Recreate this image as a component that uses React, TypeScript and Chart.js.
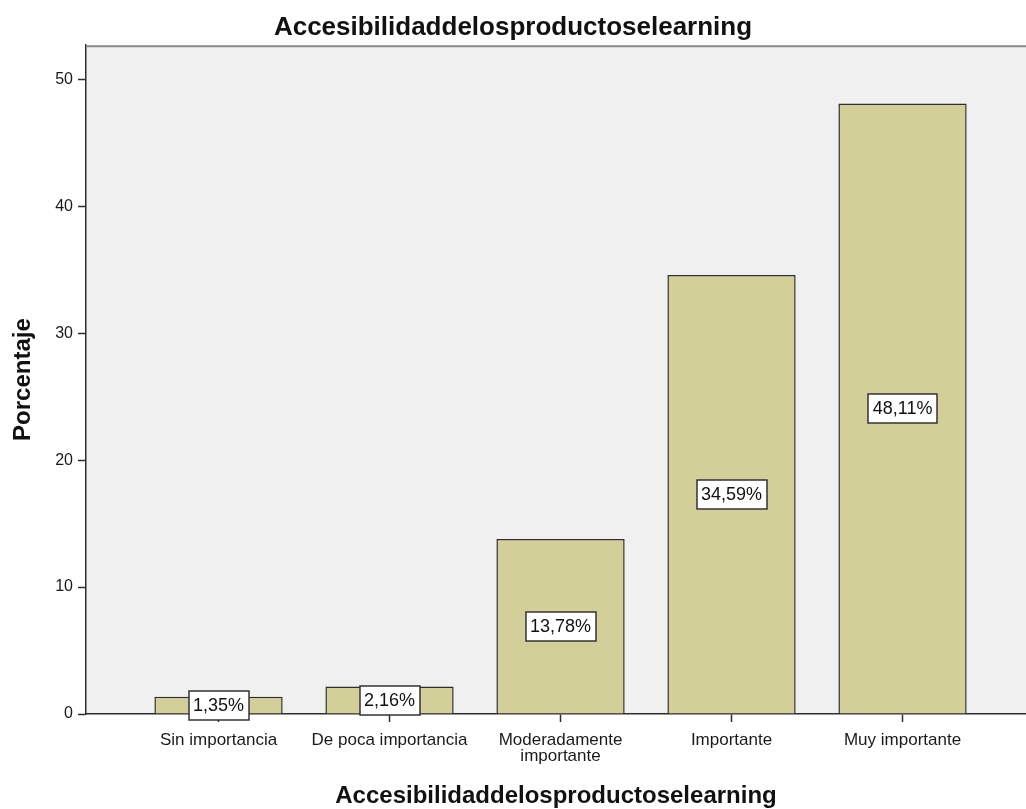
import React, { useEffect, useRef } from "react";
import { Chart, registerables } from "chart.js";

Chart.register(...registerables);

const chartTitle = "Accesibilidaddelosproductoselearning";
const xAxisTitle = "Accesibilidaddelosproductoselearning";
const yAxisTitle = "Porcentaje";
const categories: (string | string[])[] = [
  "Sin importancia",
  "De poca importancia",
  ["Moderadamente", "importante"],
  "Importante",
  "Muy importante",
];
const percentages = [1.35, 2.16, 13.78, 34.59, 48.11];
const yTicks = [0, 10, 20, 30, 40, 50];

const FONT = "'Liberation Sans', Arial, Helvetica, sans-serif";

const plotPlugin = {
  id: "plotDecor",
  beforeDraw(chart: any) {
    const { ctx, chartArea } = chart;
    ctx.save();
    ctx.fillStyle = "#f0f0f0";
    ctx.fillRect(chartArea.left, chartArea.top, chartArea.right - chartArea.left, chartArea.bottom - chartArea.top);
    ctx.restore();
  },
  afterDatasetsDraw(chart: any) {
    const { ctx, chartArea } = chart;
    ctx.save();
    // top frame line
    ctx.strokeStyle = "#8c8c8c";
    ctx.lineWidth = 2;
    ctx.beginPath();
    ctx.moveTo(chartArea.left, chartArea.top + 1);
    ctx.lineTo(chartArea.right, chartArea.top + 1);
    ctx.stroke();
    // value labels
    const meta = chart.getDatasetMeta(0);
    ctx.font = `18px ${FONT}`;
    ctx.textAlign = "center";
    ctx.textBaseline = "middle";
    meta.data.forEach((bar: any, i: number) => {
      const v = percentages[i];
      const text = v.toFixed(2).replace(".", ",") + "%";
      const cx = bar.x;
      const cy = (bar.y + bar.base) / 2;
      const w = ctx.measureText(text).width + 9;
      const h = 29;
      ctx.fillStyle = "#ffffff";
      ctx.fillRect(Math.round(cx - w / 2), Math.round(cy - h / 2), Math.round(w), h);
      ctx.strokeStyle = "#333333";
      ctx.lineWidth = 1.5;
      ctx.strokeRect(Math.round(cx - w / 2), Math.round(cy - h / 2), Math.round(w), h);
      ctx.fillStyle = "#111111";
      ctx.fillText(text, cx, cy + 1);
    });
    ctx.restore();
  },
};

export default function App() {
  const canvasRef = useRef<HTMLCanvasElement | null>(null);

  useEffect(() => {
    if (!canvasRef.current) return;
    const chart = new Chart(canvasRef.current, {
      type: "bar",
      data: {
        datasets: [
          {
            data: percentages.map((v, i) => ({ x: i, y: v })),
            backgroundColor: "#d3cf98",
            borderColor: "#2e2e2e",
            borderWidth: 1.5,
            categoryPercentage: 1,
            barPercentage: 0.75,
          },
        ],
      },
      options: {
        animation: false,
        responsive: false,
        devicePixelRatio: 1,
        layout: { padding: 0 },
        plugins: {
          legend: { display: false },
          tooltip: { enabled: false },
          title: {
            display: true,
            text: chartTitle,
            color: "#111111",
            font: { family: FONT, size: 26, weight: "bold" },
            padding: { top: 12, bottom: 2 },
          },
        },
        scales: {
          x: {
            type: "linear",
            offset: false,
            min: -0.775,
            max: 4.722,
            afterBuildTicks: (scale: any) => {
              scale.ticks = categories.map((_, i) => ({ value: i }));
            },
            afterFit: (scale: any) => {
              scale.height = 95;
            },
            ticks: {
              autoSkip: false,
              maxRotation: 0,
              minRotation: 0,
              color: "#1a1a1a",
              padding: 10,
              font: { family: FONT, size: 17, lineHeight: 0.95 },
              callback: (value: any) => categories[value as number] as any,
            },
            grid: {
              display: true,
              offset: false,
              drawOnChartArea: false,
              drawTicks: true,
              tickLength: 8,
              tickWidth: 1.5,
              tickColor: "#2e2e2e",
            },
            border: { display: true, color: "#2e2e2e", width: 1.5 },
            title: {
              display: true,
              text: xAxisTitle,
              color: "#111111",
              font: { family: FONT, size: 24, weight: "bold", lineHeight: 1.0 },
              padding: { top: 0, bottom: 1 },
            },
          },
          y: {
            type: "linear",
            min: 0,
            max: 52.7,
            afterBuildTicks: (scale: any) => {
              scale.ticks = yTicks.map((v) => ({ value: v }));
            },
            afterFit: (scale: any) => {
              scale.width = 86;
            },
            ticks: {
              color: "#1a1a1a",
              padding: 5,
              font: { family: FONT, size: 16 },
            },
            grid: {
              display: true,
              drawOnChartArea: false,
              drawTicks: true,
              tickLength: 8,
              tickWidth: 1.5,
              tickColor: "#2e2e2e",
            },
            border: { display: true, color: "#2e2e2e", width: 1.5 },
            title: {
              display: true,
              text: yAxisTitle,
              color: "#111111",
              font: { family: FONT, size: 24, weight: "bold" },
              padding: { top: 9, bottom: 0 },
            },
          },
        },
      },
      plugins: [plotPlugin],
    } as any);
    return () => chart.destroy();
  }, []);

  return (
    <div style={{ position: "fixed", left: 0, top: 0, width: 1026, height: 809, background: "#ffffff" }}>
      <canvas ref={canvasRef} width={1026} height={809} style={{ display: "block", width: 1026, height: 809 }} />
    </div>
  );
}
